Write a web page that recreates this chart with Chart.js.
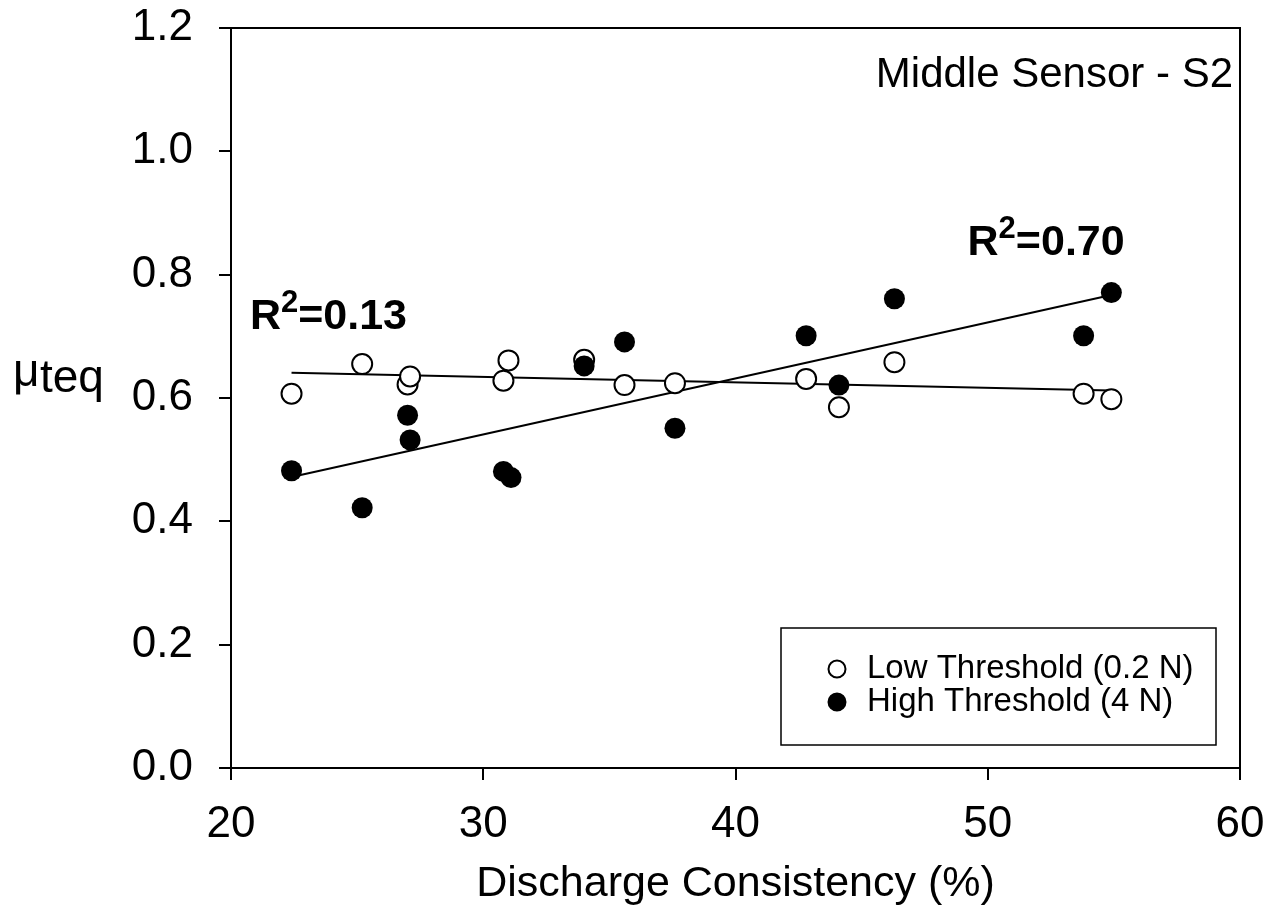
<!DOCTYPE html>
<html>
<head>
<meta charset="utf-8">
<title>Middle Sensor - S2</title>
<script src="https://cdn.jsdelivr.net/npm/chart.js@4.4.1/dist/chart.umd.min.js"></script>
<style>
  html, body { margin: 0; padding: 0; background: #fff; }
  #wrap { width: 1271px; height: 914px; }
</style>
</head>
<body>
<div id="wrap"><canvas id="chart" width="1271" height="914"></canvas></div>
<script>
// discharge consistency (%) for each test
const consistency = [22.4, 25.2, 27.0, 27.1, 30.8, 31.0, 34.0, 35.6, 37.6, 42.8, 44.1, 46.3, 53.8, 54.9];
// mu_teq at 0.2 N threshold
const lowThreshold = [0.607, 0.655, 0.622, 0.635, 0.628, 0.661, 0.662, 0.621, 0.624, 0.631, 0.585, 0.658, 0.607, 0.598];
// mu_teq at 4 N threshold
const highConsistency = [22.4, 25.2, 27.0, 27.1, 30.8, 31.1, 34.0, 35.6, 37.6, 42.8, 44.1, 46.3, 53.8, 54.9];
const highThreshold = [0.482, 0.422, 0.572, 0.532, 0.481, 0.471, 0.652, 0.691, 0.551, 0.701, 0.621, 0.761, 0.701, 0.771];

// fitted regression lines (end points)
const fitX = [22.4, 54.9];
const lowFit = [0.641, 0.612];
const highFit = [0.472, 0.767];

const xTicks = [20, 30, 40, 50, 60];
const yTicks = [0.0, 0.2, 0.4, 0.6, 0.8, 1.0, 1.2];

const FONT = "'Liberation Sans', Arial, sans-serif";

function toPoints(xs, ys) {
  return xs.map((x, i) => ({ x: x, y: ys[i] }));
}

// frame, y title, annotations and legend box
const extras = {
  id: 'extras',
  afterDraw(chart) {
    const ctx = chart.ctx;
    const a = chart.chartArea;
    const xs = chart.scales.x;
    const ys = chart.scales.y;
    ctx.save();
    ctx.strokeStyle = '#000';
    ctx.lineWidth = 2;
    ctx.strokeRect(a.left, a.top, a.right - a.left, a.bottom - a.top);

    ctx.fillStyle = '#000';
    ctx.textBaseline = 'alphabetic';

    // y axis title: mu with subscript teq
    ctx.textAlign = 'left';
    ctx.font = '46px ' + FONT;
    ctx.fillText('\u03bc', 13, 386);
    ctx.font = '46px ' + FONT;
    ctx.fillText('teq', 40, 392);

    // sensor label
    ctx.textAlign = 'right';
    ctx.font = '42px ' + FONT;
    ctx.fillText('Middle Sensor - S2', 1233, 87);

    // R squared labels
    function rLabel(text, x, y) {
      let px = xs.getPixelForValue(x);
      const py = ys.getPixelForValue(y);
      ctx.textAlign = 'left';
      ctx.font = 'bold 43px ' + FONT;
      ctx.fillText('R', px, py);
      px += ctx.measureText('R').width;
      ctx.font = 'bold 31px ' + FONT;
      ctx.fillText('2', px, py - 17);
      px += ctx.measureText('2').width;
      ctx.font = 'bold 43px ' + FONT;
      ctx.fillText(text, px, py);
    }
    rLabel('=0.13', 20.75, 0.712);
    rLabel('=0.70', 49.2, 0.832);

    // legend
    const lx = 781, ly = 628, lw = 435, lh = 117;
    ctx.lineWidth = 1.5;
    ctx.strokeRect(lx, ly, lw, lh);
    const items = [chart.data.datasets[0], chart.data.datasets[1]];
    items.forEach((ds, i) => {
      const cy = ly + 41 + i * 33;
      ctx.beginPath();
      ctx.arc(lx + 56, cy, 8.5, 0, Math.PI * 2);
      ctx.fillStyle = ds.pointBackgroundColor;
      ctx.fill();
      ctx.lineWidth = 2;
      ctx.strokeStyle = '#000';
      ctx.stroke();
      ctx.fillStyle = '#000';
      ctx.font = '33px ' + FONT;
      ctx.textAlign = 'left';
      ctx.textBaseline = 'middle';
      ctx.fillText(ds.label, lx + 86, cy);
    });
    ctx.restore();
  }
};

new Chart(document.getElementById('chart'), {
  type: 'scatter',
  data: {
    datasets: [
      {
        label: 'Low Threshold (0.2 N)',
        data: toPoints(consistency, lowThreshold),
        pointRadius: 10,
        pointBorderWidth: 2,
        pointBorderColor: '#000',
        pointBackgroundColor: '#fff',
        order: 2
      },
      {
        label: 'High Threshold (4 N)',
        data: toPoints(highConsistency, highThreshold),
        pointRadius: 10.5,
        pointBorderWidth: 0,
        pointBorderColor: '#000',
        pointBackgroundColor: '#000',
        order: 1
      },
      {
        label: 'low fit',
        data: toPoints(fitX, lowFit),
        showLine: true,
        pointRadius: 0,
        borderColor: '#000',
        borderWidth: 2,
        order: 3
      },
      {
        label: 'high fit',
        data: toPoints(fitX, highFit),
        showLine: true,
        pointRadius: 0,
        borderColor: '#000',
        borderWidth: 2,
        order: 3
      }
    ]
  },
  options: {
    responsive: false,
    animation: false,
    layout: { padding: { top: 28, right: 31, left: 0, bottom: 0 } },
    plugins: {
      legend: { display: false },
      tooltip: { enabled: false }
    },
    scales: {
      x: {
        type: 'linear',
        min: 20,
        max: 60,
        afterBuildTicks(scale) { scale.ticks = xTicks.map(v => ({ value: v })); },
        afterFit(scale) {
          scale.height = 146;
          scale.paddingLeft = 0;
          scale.paddingRight = 0;
        },
        border: { color: '#000', width: 2 },
        grid: { drawOnChartArea: false, color: '#000', tickLength: 12, lineWidth: 2 },
        ticks: {
          color: '#000',
          font: { family: FONT, size: 44 },
          padding: 18,
          maxRotation: 0
        },
        title: {
          display: true,
          text: 'Discharge Consistency (%)',
          color: '#000',
          font: { family: FONT, size: 43 },
          padding: { top: 2 }
        }
      },
      y: {
        type: 'linear',
        min: 0,
        max: 1.2,
        afterBuildTicks(scale) { scale.ticks = yTicks.map(v => ({ value: v })); },
        afterFit(scale) {
          scale.width = 231;
          scale.paddingTop = 0;
          scale.paddingBottom = 0;
        },
        border: { color: '#000', width: 2 },
        grid: { drawOnChartArea: false, color: '#000', tickLength: 12, lineWidth: 2 },
        ticks: {
          color: '#000',
          font: { family: FONT, size: 44 },
          padding: 26,
          callback: v => v.toFixed(1)
        }
      }
    }
  },
  plugins: [extras]
});
</script>
</body>
</html>
